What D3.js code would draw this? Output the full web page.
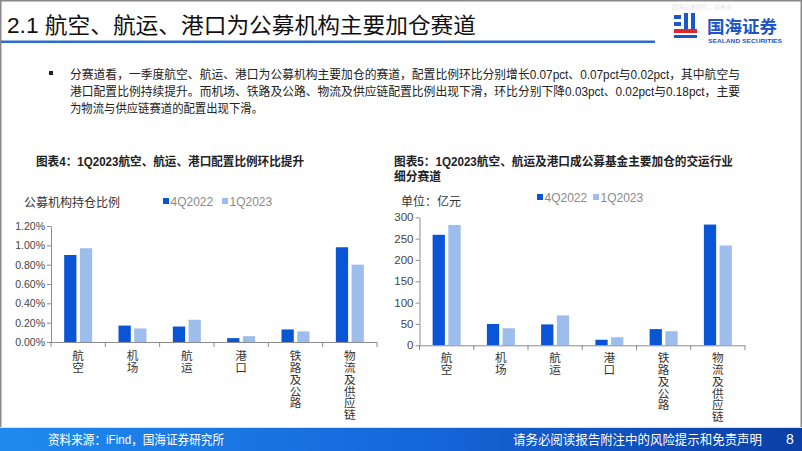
<!DOCTYPE html>
<html><head><meta charset="utf-8">
<script src="https://cdn.jsdelivr.net/npm/d3@7"></script>
<style>
html,body{margin:0;padding:0;background:#fff;}
svg{display:block;font-family:"Liberation Sans",Arial,"Noto Sans CJK SC",sans-serif;}
</style></head>
<body>
<svg id="c" width="802" height="451"></svg>
<script>
const categories = ["航空","机场","航运","港口","铁路及公路","物流及供应链"];
const seriesNames = ["4Q2022","1Q2023"];
const ratio4Q2022 = [0.90,0.17,0.16,0.04,0.13,0.98];
const ratio1Q2023 = [0.97,0.14,0.23,0.06,0.11,0.80];
const amount4Q2022 = [259,50,49,13,38,283];
const amount1Q2023 = [282,40,70,19,33,234];
const ratioTicks = [0,0.2,0.4,0.6,0.8,1.0,1.2];
const amountTicks = [0,50,100,150,200,250,300];
const colors = ["#0a55d6","#9dbdec"];

const svg = d3.select("#c");

// ---------- header ----------
svg.append("rect").attr("x",0.75).attr("y",0.75).attr("width",800.5).attr("height",449.5)
  .attr("fill","none").attr("stroke","#8a8a8a").attr("stroke-width",1.5);
svg.append("text").attr("x",7).attr("y",33).attr("font-size",22).attr("fill","#111")
  .attr("textLength",469).attr("lengthAdjust","spacingAndGlyphs")
  .text("2.1 航空、航运、港口为公募机构主要加仓赛道");
svg.append("rect").attr("x",1).attr("y",40.5).attr("width",654).attr("height",2.5).attr("fill","#2d6dd2");

// logo
const lg = svg.append("g");
lg.append("text").attr("x",672).attr("y",9).attr("font-size",6).attr("fill","#e6e6ea").text("国海证券研究，请务必");
lg.append("rect").attr("x",674).attr("y",15).attr("width",7).attr("height",4).attr("fill","#1c56c8");
lg.append("rect").attr("x",674).attr("y",22).attr("width",7).attr("height",4).attr("fill","#1c56c8");
lg.append("rect").attr("x",684).attr("y",13).attr("width",4).attr("height",17).attr("fill","#1c56c8");
lg.append("rect").attr("x",691).attr("y",13).attr("width",4).attr("height",17).attr("fill","#1c56c8");
lg.append("rect").attr("x",674).attr("y",29).attr("width",23).attr("height",4).attr("fill","#e0262b");
lg.append("rect").attr("x",674).attr("y",35).attr("width",23).attr("height",3).attr("fill","#1c56c8");
lg.append("text").attr("x",707).attr("y",33).attr("font-size",17.5).attr("font-weight","bold").attr("fill","#1c56c8")
  .attr("font-family","Noto Sans CJK SC").text("国海证券");
lg.append("text").attr("x",708).attr("y",43).attr("font-size",6.2).attr("font-weight","bold").attr("fill","#1c56c8")
  .attr("textLength",74).attr("lengthAdjust","spacingAndGlyphs").text("SEALAND SECURITIES");

// paragraph
svg.append("rect").attr("x",49).attr("y",71).attr("width",4).attr("height",4).attr("fill","#222");
const paraLines = [
 ["分赛道看，一季度航空、航运、港口为公募机构主要加仓的赛道，配置比例环比分别增长0.07pct、0.07pct与0.02pct，其中航空与",670],
 ["港口配置比例持续提升。而机场、铁路及公路、物流及供应链配置比例出现下滑，环比分别下降0.03pct、0.02pct与0.18pct，主要",670],
 ["为物流与供应链赛道的配置出现下滑。",193]
];
paraLines.forEach((l,i)=>{
  svg.append("text").attr("x",70).attr("y",78.5+i*17).attr("font-size",12).attr("fill","#222")
    .attr("textLength",l[1]).attr("lengthAdjust","spacingAndGlyphs").text(l[0]);
});

// footer
const defs = svg.append("defs");
const gr = defs.append("linearGradient").attr("id","fg").attr("x1","0").attr("x2","1").attr("y1","0").attr("y2","0");
gr.append("stop").attr("offset","0%").attr("stop-color","#1f8af0");
gr.append("stop").attr("offset","55%").attr("stop-color","#1565d8");
gr.append("stop").attr("offset","100%").attr("stop-color","#0b3ea6");
svg.append("rect").attr("x",0).attr("y",428).attr("width",802).attr("height",23).attr("fill","url(#fg)");
svg.append("rect").attr("x",0).attr("y",427).attr("width",802).attr("height",1).attr("fill","#cfe0f7");
svg.append("text").attr("x",48).attr("y",444).attr("font-size",13).attr("fill","#fff")
  .attr("textLength",176).attr("lengthAdjust","spacingAndGlyphs").text("资料来源：iFind，国海证券研究所");
svg.append("text").attr("x",513).attr("y",444).attr("font-size",13).attr("fill","#fff")
  .attr("textLength",249).attr("lengthAdjust","spacingAndGlyphs").text("请务必阅读报告附注中的风险提示和免责声明");
svg.append("text").attr("x",786).attr("y",444).attr("font-size",14).attr("fill","#fff").text("8");

// ---------- chart builder ----------
function drawChart(o){
  const g = svg.append("g");
  const x = d3.scaleBand().domain(categories).range([o.x0,o.x1]);
  const y = d3.scaleLinear().domain([0,o.ymax]).range([o.y0,o.y1]);
  const x1 = d3.scaleBand().domain(seriesNames).range([0,28]).paddingInner(0.22);
  const off = (x.bandwidth()-28)/2;
  const data = [o.a,o.b];
  seriesNames.forEach((s,si)=>{
    g.append("g").selectAll("rect").data(categories).join("rect")
      .attr("x",c=>x(c)+off+x1(s))
      .attr("width",x1.bandwidth())
      .attr("y",(c,i)=>y(data[si][i]))
      .attr("height",(c,i)=>y(0)-y(data[si][i]))
      .attr("fill",colors[si]);
  });
  // y axis
  const ya = g.append("g").attr("transform",`translate(${o.x0},0)`)
    .call(d3.axisLeft(y).tickValues(o.ticks).tickFormat(o.fmt).tickSize(4).tickSizeOuter(0));
  ya.select(".domain").attr("stroke","#8c8c8c");
  ya.selectAll(".tick line").attr("stroke","#8c8c8c");
  ya.selectAll(".tick text").attr("font-size",o.tfs).attr("fill","#444").attr("x",-6)
    .attr("font-family","Liberation Sans, Arial");
  // x axis
  g.append("line").attr("x1",o.x0).attr("x2",o.x1).attr("y1",y(0)+0.5).attr("y2",y(0)+0.5).attr("stroke","#8c8c8c");
  const bounds = categories.map(c=>x(c)).concat([o.x1]);
  g.selectAll(".xt").data(bounds).join("line").attr("class","xt")
    .attr("x1",d=>d).attr("x2",d=>d).attr("y1",y(0)).attr("y2",y(0)+5).attr("stroke","#8c8c8c");
  // category labels vertical (one text each, vertical writing mode)
  categories.forEach(c=>{
    g.append("text").attr("font-size",11.6).attr("fill","#333")
      .attr("font-family","Noto Sans CJK SC")
      .attr("x",x(c)+x.bandwidth()/2).attr("y",o.labY)
      .style("writing-mode","vertical-rl").style("text-orientation","upright")
      .style("letter-spacing","0.2px")
      .text(c);
  });
  // titles
  o.title.forEach((tl,i)=>{
    g.append("text").attr("x",o.titleX).attr("y",o.titleY+i*15).attr("font-size",12.2).attr("fill","#222")
      .attr("font-weight","bold").attr("textLength",tl[1]).attr("lengthAdjust","spacingAndGlyphs").text(tl[0]);
  });
  g.append("text").attr("x",o.unitX).attr("y",o.unitY).attr("font-size",12).attr("fill","#333").text(o.unit);
  // legend
  seriesNames.forEach((s,si)=>{
    g.append("rect").attr("x",o.legX[si]).attr("y",o.legY-8).attr("width",6).attr("height",6).attr("fill",colors[si]);
    g.append("text").attr("x",o.legX[si]+7.5).attr("y",o.legY).attr("font-size",12).attr("fill","#8a8a8a").text(s);
  });
}

drawChart({
  x0:51,x1:377,y0:342,y1:226,ymax:1.2,ticks:ratioTicks,fmt:d=>d.toFixed(2)+"%",tfs:10.5,
  a:ratio4Q2022,b:ratio1Q2023,labY:350,
  title:[["图表4：1Q2023航空、航运、港口配置比例环比提升",268]],titleX:36,titleY:166,
  unit:"公募机构持仓比例",unitX:24,unitY:207,legX:[163,222],legY:206
});
drawChart({
  x0:419.5,x1:745,y0:345.3,y1:217.3,ymax:300,ticks:amountTicks,fmt:d=>d,tfs:11.5,
  a:amount4Q2022,b:amount1Q2023,labY:352,
  title:[["图表5：1Q2023航空、航运及港口成公募基金主要加仓的交运行业",339],["细分赛道",47]],titleX:394,titleY:166,
  unit:"单位：亿元",unitX:401,unitY:206,legX:[537,593],legY:202
});
</script>
</body></html>
